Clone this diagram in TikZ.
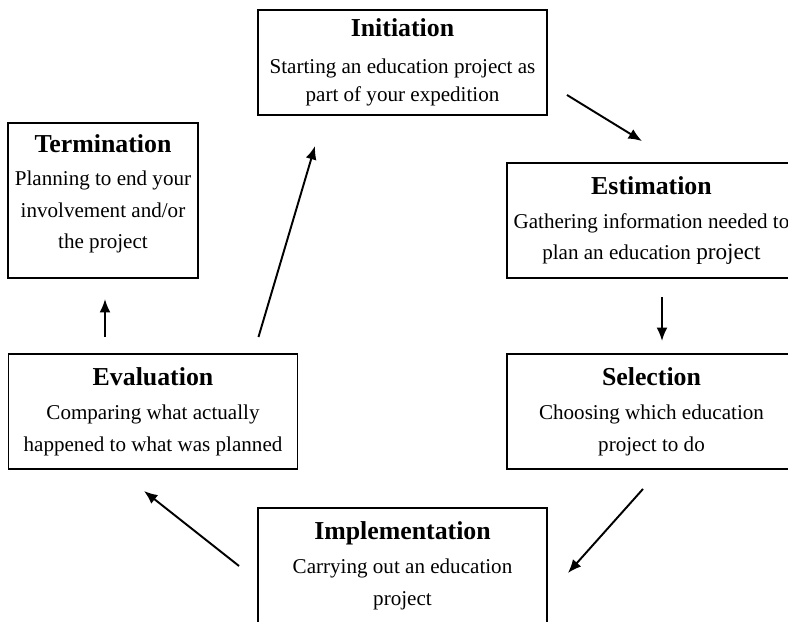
\documentclass[tikz,border=0pt]{standalone}
\usepackage{fontspec}
\setmainfont{Liberation Serif}
\usetikzlibrary{arrows.meta}

\newdimen\px
\px=0.02cm
\newcommand{\stagename}[1]{{\fontsize{14.7}{18}\selectfont\bfseries #1}}

\begin{document}
\begin{tikzpicture}[x=0.02cm,y=-0.02cm,
  stage/.style={draw,line width=1.1pt,minimum width=289\px,minimum height=115\px,
    align=center,font=\fontsize{12}{18}\selectfont},
  flow/.style={-{Latex[length=0.27cm,width=0.22cm]},line width=1.1pt}]
\useasboundingbox (0,0) rectangle (788,622);

\node[stage,minimum height=105\px,font=\fontsize{12}{16}\selectfont] (init) at (402.5,62.5)
  {\stagename{Initiation}\\[5pt]Starting an education project as\\part of your expedition};
\node[stage] (est) at (651.5,220.5)
  {\stagename{Estimation}\\[1.5pt]\makebox[250\px]{Gathering information needed to}\\plan an education {\fontsize{13.2}{18}\selectfont project}};
\node[stage] (sel) at (651.5,411.5)
  {\stagename{Selection}\\[1.5pt]Choosing which education\\project to do};
\node[stage] (impl) at (402.5,565.5)
  {\stagename{Implementation}\\[1.5pt]Carrying out an education\\project};
\node[stage] (eval) at (153,411.5)
  {\stagename{Evaluation}\\[1.5pt]Comparing what actually\\happened to what was planned};
\node[stage,minimum width=190\px,minimum height=155\px] (term) at (103,200.5)
  {\stagename{Termination}\\[1pt]Planning to end your\\involvement and/or\\the project\\[-8pt]\mbox{}};

% the cycle
\draw[flow] ([shift={(19,-21)}]init.south east) -- ([shift={(-9.5,-21)}]est.north);
\draw[flow] ([shift={(10.5,18)}]est.south) -- ([shift={(10.5,-12)}]sel.north);
\draw[flow] ([shift={(-8.5,19)}]sel.south) -- ([shift={(20,7.5)}]impl.east);
\draw[flow] ([shift={(-18,0.5)}]impl.west) -- ([shift={(-9,21)}]eval.south);
\draw[flow] ([shift={(-48,-16)}]eval.north) -- ([shift={(2,20)}]term.south);
\draw[flow] ([shift={(-40,-16)}]eval.north east) -- ([shift={(58,30)}]init.south west);
\end{tikzpicture}
\end{document}
